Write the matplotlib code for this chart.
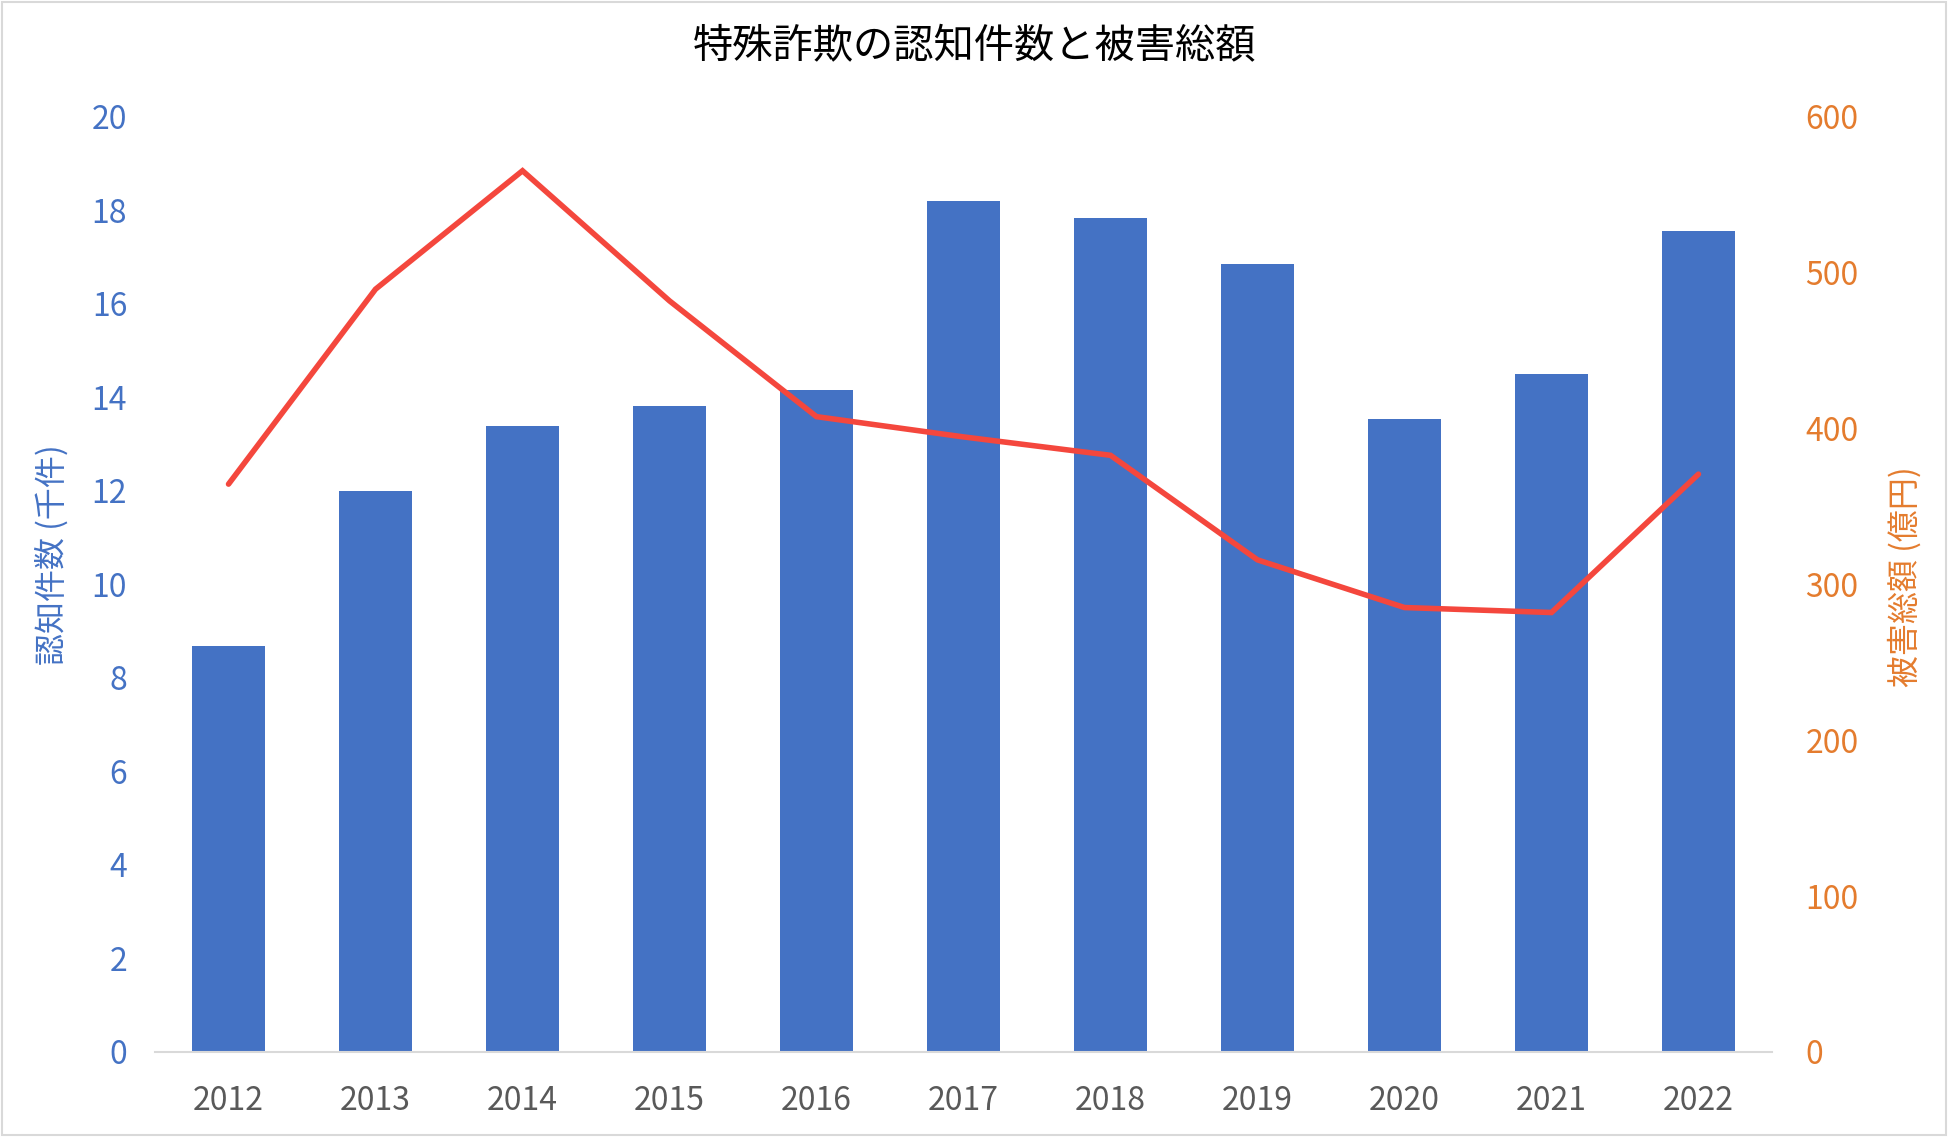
import numpy as np
import matplotlib
matplotlib.use("Agg")
import matplotlib.pyplot as plt
from matplotlib.patches import Rectangle

plt.rcParams['font.family'] = ['Noto Sans CJK JP', 'DejaVu Sans']

# data
years = ['2012', '2013', '2014', '2015', '2016', '2017', '2018', '2019', '2020', '2021', '2022']
cases = [8.693, 11.998, 13.392, 13.824, 14.154, 18.212, 17.844, 16.851, 13.550, 14.498, 17.570]
damage = [364.4, 489.5, 565.5, 482.0, 407.7, 394.7, 382.9, 315.8, 285.2, 282.0, 370.8]

title = '特殊詐欺の認知件数と被害総額'
leftLabel = '認知件数 (千件)'
rightLabel = '被害総額 (億円)'

barColor = '#4472C4'
lineColor = '#F4473D'
rightColor = '#E47C2E'
gridGray = '#D9D9D9'

fig = plt.figure(figsize=(19.5, 11.37), dpi=100)
ax = fig.add_axes([0.0795, 0.0748, 0.8292, 0.8223])
ax2 = ax.twinx()

x = np.arange(len(years))
ax.bar(x, cases, width=0.5, color=barColor, zorder=2)
ax2.plot(x, damage, color=lineColor, linewidth=4, solid_capstyle='round', solid_joinstyle='miter')

ax.set_xlim(-0.5, len(years) - 0.5)
ax.set_ylim(0, 20)
ax.set_yticks(np.arange(0, 21, 2))
ax2.set_ylim(0, 600)
ax2.set_yticks(np.arange(0, 601, 100))

ax.set_xticks(x)
ax.set_xticklabels(years)

for a in (ax, ax2):
	for s in a.spines.values():
		s.set_visible(False)
ax.spines['bottom'].set_visible(True)
ax.spines['bottom'].set_color(gridGray)
ax.spines['bottom'].set_linewidth(1.5)

ax.tick_params(axis='x', length=0, pad=24, labelsize=23, labelcolor='#595959')
ax.tick_params(axis='y', length=0, pad=20, labelsize=23, labelcolor=barColor)
ax2.tick_params(axis='y', length=0, pad=24, labelsize=23, labelcolor=rightColor)

fig.text(0.5, 0.9587, title, ha='center', va='center', fontsize=29, color='black')
fig.text(0.0267, 0.512, leftLabel, rotation=90, ha='center', va='center', fontsize=23, color=barColor)
fig.text(0.977, 0.493, rightLabel, rotation=90, ha='center', va='center', fontsize=23, color=rightColor)

# outer border
fig.patches.append(Rectangle((0.001, 0.002), 0.997, 0.996, transform=fig.transFigure,
	fill=False, edgecolor=gridGray, linewidth=1.5))

fig.savefig('out.png', dpi=100)
